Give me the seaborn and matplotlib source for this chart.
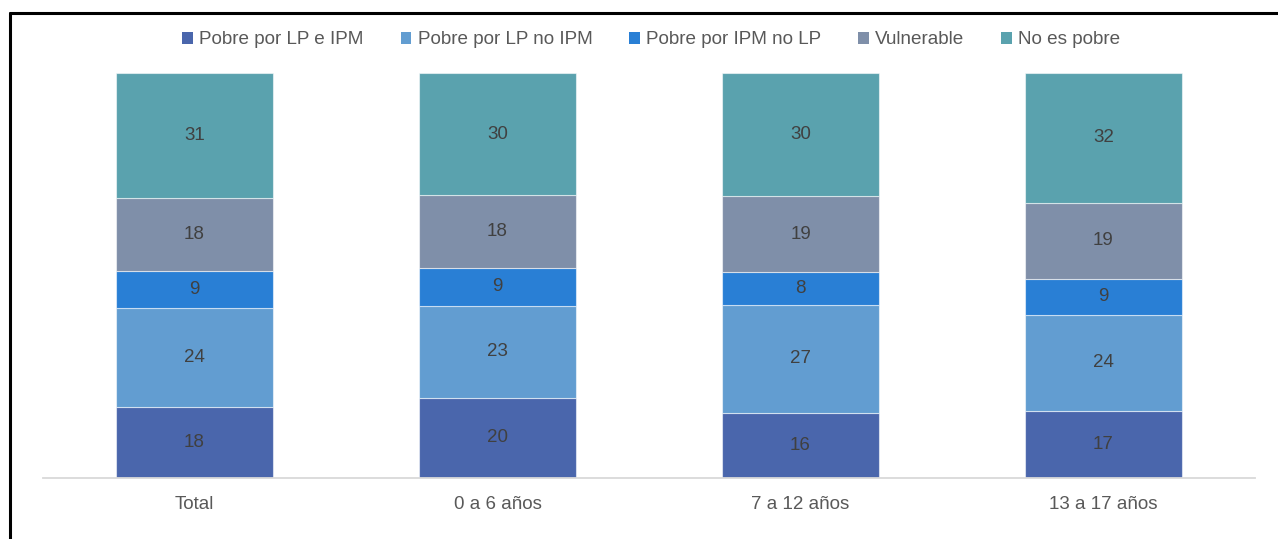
import matplotlib
matplotlib.use('Agg')
import matplotlib.pyplot as plt
import seaborn as sns
import numpy as np
import pandas as pd
from matplotlib.lines import Line2D
from matplotlib.patches import Patch

categories = ['Total', '0 a 6 años', '7 a 12 años', '13 a 17 años']
series = ['Pobre por LP e IPM', 'Pobre por LP no IPM', 'Pobre por IPM no LP',
          'Vulnerable', 'No es pobre']
pobre_lp_ipm = [17.6, 19.8, 16.0, 16.6]
pobre_lp_no_ipm = [24.4, 22.7, 26.8, 23.7]
pobre_ipm_no_lp = [9.1, 9.4, 8.0, 8.9]
vulnerable = [18.0, 17.9, 18.8, 18.8]
no_es_pobre = [30.9, 30.2, 30.4, 32.0]
colors = ['#4A66AC', '#629DD1', '#297FD5', '#7F8FA9', '#5AA2AE']

sns.set_theme(style='white')
plt.rcParams['font.family'] = ['Liberation Sans', 'DejaVu Sans']

fig = plt.figure(figsize=(12.78, 5.39), dpi=100)
W, H = 1278, 539
ax = fig.add_axes([43 / W, 61 / H, 1212 / W, 405 / H])

all_vals = [pobre_lp_ipm, pobre_lp_no_ipm, pobre_ipm_no_lp, vulnerable, no_es_pobre]
bottom = np.zeros(len(categories))
for name, vals, col in zip(series, all_vals, colors):
    df = pd.DataFrame({'cat': categories, 'val': vals})
    sns.barplot(data=df, x='cat', y='val', order=categories, color=col,
                saturation=1, width=0.515, bottom=bottom.copy(), errorbar=None,
                edgecolor=(1, 1, 1, 0.55), linewidth=0.8, ax=ax)
    bottom += np.array(vals)

for cont, vals in zip(ax.containers, all_vals):
    ax.bar_label(cont, labels=[f'{round(v)}' for v in vals], label_type='center',
                 color='#404040', fontsize=13.5)

ax.set_xlim(-0.5, len(categories) - 0.5)
ax.set_ylim(0, 100)
ax.set_yticks([])
ax.set_xlabel('')
ax.set_ylabel('')
for s in ['left', 'right', 'top']:
    ax.spines[s].set_visible(False)
ax.spines['bottom'].set_color('#D9D9D9')
ax.spines['bottom'].set_linewidth(1.3)
ax.tick_params(axis='x', length=0, pad=13, labelsize=13.5, labelcolor='#595959')

handles = [Patch(facecolor=c, edgecolor='none') for c in colors]
ax.legend(handles, series, loc='center', bbox_to_anchor=(0.502, 1 + 33 / 405),
          ncol=5, frameon=False, handlelength=0.55, handleheight=0.55,
          handletextpad=0.35, columnspacing=1.95, fontsize=13.6,
          labelcolor='#595959')

fig.add_artist(Line2D([10 / W, 1], [1 - 13 / H, 1 - 13 / H], color='black',
                      lw=2.2, transform=fig.transFigure))
fig.add_artist(Line2D([10 / W, 10 / W], [0, 1 - 13 / H], color='black',
                      lw=2.2, transform=fig.transFigure))

fig.savefig('out.png', dpi=100, facecolor='white')
